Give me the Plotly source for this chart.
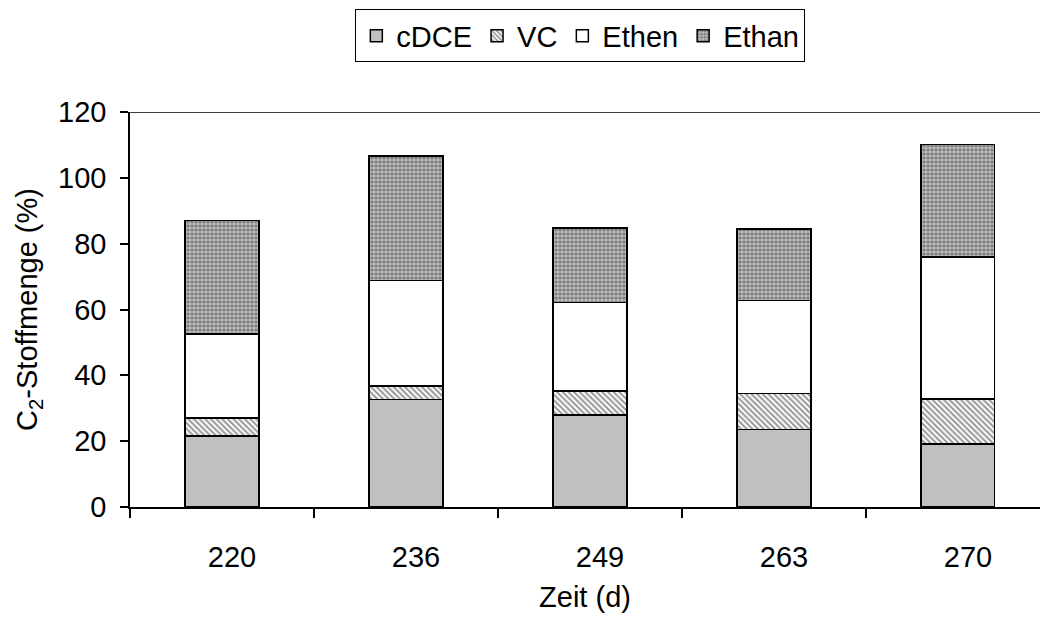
import plotly.graph_objects as go

# Sampling days and C2 fractions (%) per compound
days = ["220", "236", "249", "263", "270"]
cdce = [21.6, 32.7, 27.9, 23.6, 19.1]
vc = [5.5, 4.1, 7.3, 10.9, 13.7]
ethen = [25.5, 32.0, 26.9, 28.2, 43.1]
ethan = [34.4, 37.9, 22.7, 21.8, 34.3]

font_family = "Liberation Sans, Arial, sans-serif"
fs = 29
edge = dict(color="black", width=1.5)

fig = go.Figure()
fig.add_trace(go.Bar(name="cDCE", x=days, y=cdce,
                     marker=dict(color="#c0c0c0", line=edge)))
fig.add_trace(go.Bar(name="VC", x=days, y=vc,
                     marker=dict(color="white", line=edge,
                                 pattern=dict(shape="\\", fgcolor="#303030", bgcolor="white",
                                              size=4, solidity=0.5))))
fig.add_trace(go.Bar(name="Ethen", x=days, y=ethen,
                     marker=dict(color="white", line=edge)))
fig.add_trace(go.Bar(name="Ethan", x=days, y=ethan,
                     marker=dict(color="#b8b8b8", line=edge,
                                 pattern=dict(shape=".", fgcolor="#383838", bgcolor="#c8c8c8",
                                              size=4, solidity=0.65))))

fig.update_layout(
    barmode="stack",
    bargap=0.6,
    width=1040, height=627,
    margin=dict(l=130, r=0, t=112, b=120),
    paper_bgcolor="white", plot_bgcolor="white",
    font=dict(family=font_family, size=fs, color="black"),
    showlegend=True,
    legend=dict(orientation="h", xref="container", yref="container",
                x=0.558, xanchor="center", y=0.985, yanchor="top",
                bordercolor="black", borderwidth=1, bgcolor="white",
                font=dict(size=fs), itemwidth=30, tracegroupgap=0,
                traceorder="normal"),
    xaxis=dict(type="category", range=[-0.5, 4.446],
               showline=True, linecolor="black", linewidth=1.5,
               ticks="outside", tickson="boundaries", ticklen=9, tickcolor="black",
               tickwidth=1.5, ticklabelshift=10, ticklabelstandoff=23,
               tickfont=dict(size=fs),
               title=dict(text="Zeit (d)", standoff=15, font=dict(size=fs)),
               showgrid=False, zeroline=False),
    yaxis=dict(range=[0, 120], dtick=20,
               showline=True, linecolor="black", linewidth=1.5,
               ticks="outside", ticklen=8, tickcolor="black", tickwidth=1.5,
               ticklabelstandoff=8, tickfont=dict(size=fs),
               title=dict(text="C<sub>2</sub>-Stoffmenge (%)", standoff=12, font=dict(size=fs)),
               showgrid=False, zeroline=False),
)

# Upper frame line of the plot area at the axis maximum
fig.add_shape(type="line", xref="paper", yref="y", x0=0, x1=1, y0=120, y1=120,
              line=dict(color="black", width=1.5))

fig.write_html("out.html")
